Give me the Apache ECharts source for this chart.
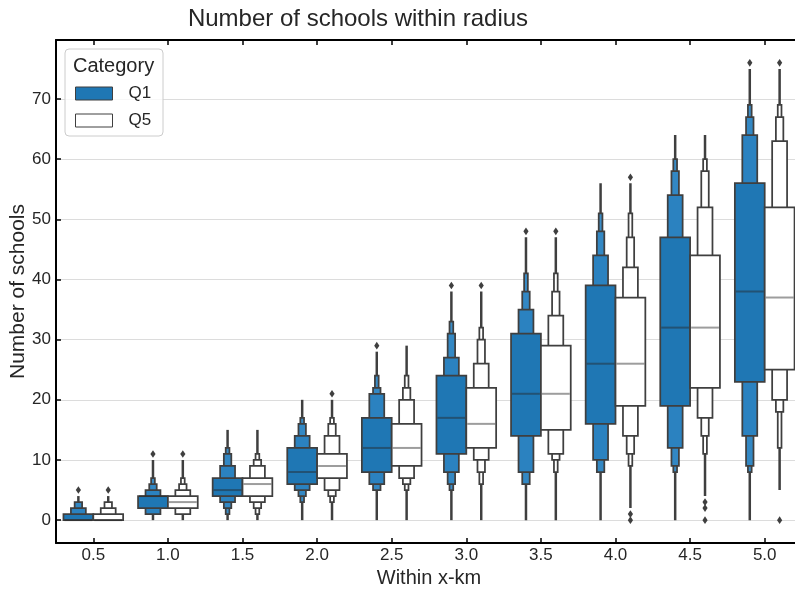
<!DOCTYPE html>
<html>
<head>
<meta charset="utf-8">
<script src="https://cdn.jsdelivr.net/npm/echarts@6/dist/echarts.min.js"></script>
<style>
  html, body { margin: 0; padding: 0; background: #ffffff; }
  #chart { width: 795px; height: 590px; }
</style>
</head>
<body>
<div id="chart"></div>
<script>
// Distance bands (km)
const categories = ['0.5', '1.0', '1.5', '2.0', '2.5', '3.0', '3.5', '4.0', '4.5', '5.0'];
const hues = ['Q1', 'Q5'];

// Letter-value boxes for each band, widest (quartiles) first: [low, high]
const q1Boxes = [
  [[0, 1], [0, 2], [0, 3]],
  [[2, 4], [1, 5], [1, 6], [1, 7]],
  [[4, 7], [3, 9], [2, 11], [1, 12]],
  [[6, 12], [5, 14], [4, 16], [3, 17]],
  [[8, 17], [6, 21], [5, 22], [5, 24]],
  [[11, 24], [8, 27], [6, 31], [5, 33]],
  [[14, 31], [8, 35], [6, 38], [6, 41]],
  [[16, 39], [10, 44], [8, 48], [8, 51]],
  [[19, 47], [12, 54], [9, 58], [8, 60]],
  [[23, 56], [14, 64], [9, 67], [8, 69]]
];
const q1Median = [0, 4, 5, 8, 12, 17, 21, 26, 32, 38];
const q1Range = [[0, 4], [0, 10], [0, 15], [0, 20], [0, 28], [0, 38], [0, 47], [0, 56], [0, 64], [0, 75]];
const q1Outliers = [[5], [11], [], [], [29], [39], [48], [], [], [76]];

const q5Boxes = [
  [[0, 1], [0, 2], [0, 3]],
  [[2, 4], [1, 5], [1, 6], [1, 7]],
  [[4, 7], [3, 9], [2, 10], [1, 11]],
  [[7, 11], [5, 14], [4, 16], [3, 17]],
  [[9, 16], [7, 20], [6, 22], [5, 24]],
  [[12, 22], [10, 26], [8, 30], [6, 32]],
  [[15, 29], [11, 34], [10, 38], [8, 41]],
  [[19, 37], [14, 42], [11, 47], [9, 51]],
  [[22, 44], [17, 52], [14, 58], [11, 60]],
  [[25, 52], [20, 63], [18, 67], [12, 69]]
];
const q5Median = [0, 3, 6, 9, 12, 16, 21, 26, 32, 37];
const q5Range = [[0, 4], [0, 10], [0, 15], [0, 20], [0, 29], [0, 38], [0, 47], [2, 56], [4, 64], [5, 75]];
const q5Outliers = [[5], [11], [], [21], [], [39], [48], [57, 1, 0], [3, 2, 0], [76, 0]];

const yTicks = [0, 10, 20, 30, 40, 50, 60, 70];

const EDGE = '#3f3f3f';
const FONT = "'Liberation Sans', Arial, sans-serif";

function boxenSeries(name, boxes, median, range, outliers, fills, offset) {
  return {
    name: name,
    type: 'custom',
    z: 3,
    itemStyle: { color: fills[0], borderColor: EDGE, borderWidth: 1 },
    data: categories.map((c, i) => [i, median[i]]),
    encode: { x: 0, y: 1 },
    renderItem: function (params, api) {
      const i = params.dataIndex;
      const band = api.size([1, 0])[0];
      const cx = api.coord([i, 0])[0] + offset * band;
      const w = band * 0.4;
      const children = [];
      // dense tail drawn as a single stem
      const r = range[i];
      children.push({
        type: 'line',
        shape: { x1: cx, y1: api.coord([i, r[0]])[1], x2: cx, y2: api.coord([i, r[1]])[1] },
        style: { stroke: EDGE, lineWidth: 2.5 }
      });
      // nested boxes, narrowest first so the wider ones sit on top
      const levels = boxes[i];
      for (let k = levels.length - 1; k >= 0; k--) {
        const bw = w / Math.pow(2, k);
        const yTop = api.coord([i, levels[k][1]])[1];
        const yBot = api.coord([i, levels[k][0]])[1];
        children.push({
          type: 'rect',
          shape: { x: cx - bw / 2, y: yTop, width: bw, height: yBot - yTop },
          style: { fill: fills[Math.min(k, fills.length - 1)], stroke: EDGE, lineWidth: 1.75 }
        });
      }
      // median
      const ym = api.coord([i, median[i]])[1];
      children.push({
        type: 'line',
        shape: { x1: cx - w / 2 + 1, y1: ym, x2: cx + w / 2 - 1, y2: ym },
        style: { stroke: 'rgba(38,38,38,0.45)', lineWidth: 2 }
      });
      // outliers as thin diamonds
      outliers[i].forEach(v => {
        const y = api.coord([i, v])[1];
        children.push({
          type: 'polygon',
          shape: { points: [[cx, y - 3.8], [cx + 2.6, y], [cx, y + 3.8], [cx - 2.6, y]] },
          style: { fill: EDGE }
        });
      });
      return { type: 'group', children: children };
    }
  };
}

const chart = echarts.init(document.getElementById('chart'), null, { renderer: 'canvas' });

chart.setOption({
  animation: false,
  backgroundColor: '#ffffff',
  textStyle: { fontFamily: FONT },
  grid: { left: 56, top: 40, right: -7, bottom: 47, containLabel: false, outerBoundsMode: 'none' },
  graphic: [
    {
      type: 'text', x: 358, y: 19, z: 10,
      style: { text: 'Number of schools within radius', font: "24px " + FONT, fill: '#262626', align: 'center', verticalAlign: 'middle' }
    },
    {
      type: 'rect', z: 10,
      shape: { x: 65, y: 49, width: 98, height: 87, r: 4 },
      style: { fill: 'rgba(255,255,255,0.8)', stroke: '#cccccc', lineWidth: 1 }
    },
    {
      type: 'text', x: 73, y: 66, z: 11,
      style: { text: 'Category', font: "20px " + FONT, fill: '#262626', align: 'left', verticalAlign: 'middle' }
    }
  ],
  legend: {
    data: hues,
    orient: 'vertical',
    left: 75,
    top: 85,
    z: 12,
    padding: 0,
    icon: 'rect',
    itemWidth: 37,
    itemHeight: 13,
    itemGap: 10,
    itemStyle: { borderColor: EDGE, borderWidth: 1 },
    textStyle: { fontSize: 17, color: '#262626', fontFamily: FONT, padding: [0, 0, 0, 11] },
    selectedMode: false
  },
  xAxis: [
    {
      type: 'category',
      data: categories,
      position: 'bottom',
      name: 'Within x-km',
      nameLocation: 'middle',
      nameGap: 24,
      nameTextStyle: { fontSize: 20, color: '#262626', fontFamily: FONT },
      axisLine: { show: true, onZero: false, lineStyle: { color: '#000000', width: 2 } },
      axisTick: { show: true, inside: true, alignWithLabel: true, length: 5, lineStyle: { color: '#000000', width: 1.5 } },
      axisLabel: { fontSize: 17, color: '#262626', margin: 4, fontFamily: FONT },
      splitLine: { show: false }
    },
    {
      type: 'category',
      data: categories,
      position: 'top',
      axisLine: { show: true, onZero: false, lineStyle: { color: '#000000', width: 2 } },
      axisTick: { show: true, inside: true, alignWithLabel: true, length: 5, lineStyle: { color: '#000000', width: 1.5 } },
      axisLabel: { show: false },
      splitLine: { show: false }
    }
  ],
  yAxis: {
    type: 'value',
    min: -3.8,
    max: 79.8,
    splitNumber: 8,
    name: 'Number of schools',
    nameLocation: 'middle',
    nameGap: 27,
    nameMoveOverlap: false,
    nameRotate: 90,
    nameTextStyle: { fontSize: 21, color: '#262626', fontFamily: FONT },
    axisLine: { show: true, onZero: false, lineStyle: { color: '#000000', width: 2 } },
    axisTick: { show: true, inside: true, length: 5, lineStyle: { color: '#000000', width: 1.5 } },
    axisLabel: {
      fontSize: 17, color: '#262626', margin: 5, fontFamily: FONT,
      showMinLabel: false, showMaxLabel: false,
      formatter: v => (yTicks.indexOf(v) >= 0 ? String(v) : '')
    },
    splitLine: { show: true, lineStyle: { color: '#dcdcdc', width: 1 } }
  },
  series: [
    boxenSeries('Q1', q1Boxes, q1Median, q1Range, q1Outliers, ['#1f77b4', '#2b82c0', '#3388c4', '#3b8dc7'], -0.2),
    boxenSeries('Q5', q5Boxes, q5Median, q5Range, q5Outliers, ['#ffffff'], 0.2)
  ]
});
</script>
</body>
</html>
